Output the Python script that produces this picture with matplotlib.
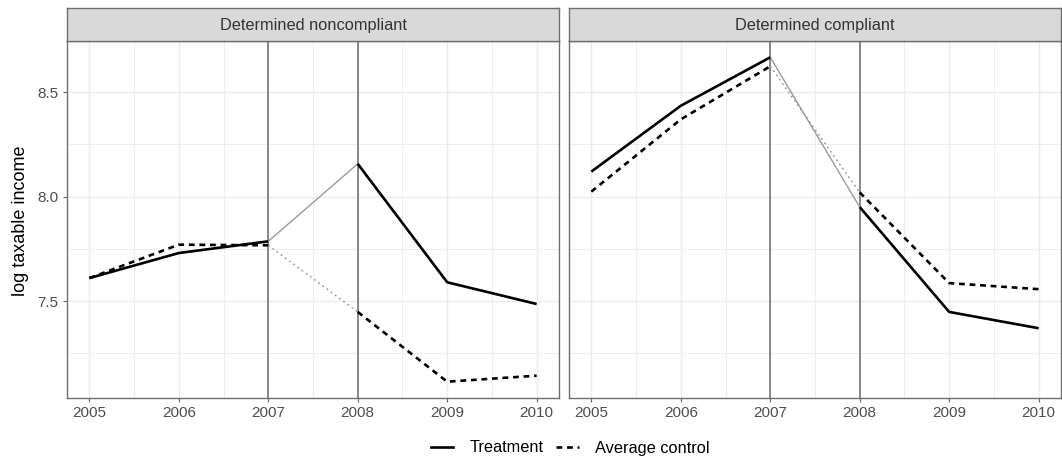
import matplotlib.pyplot as plt
from matplotlib.lines import Line2D

plt.rcParams['font.family'] = ['Liberation Sans', 'DejaVu Sans']

years = [2005, 2006, 2007, 2008, 2009, 2010]
panels = ['Determined noncompliant', 'Determined compliant']

# log taxable income
treat_nc = [7.61, 7.73, 7.786, 8.157, 7.59, 7.486]
ctrl_nc = [7.61, 7.77, 7.767, 7.448, 7.114, 7.143]
treat_c = [8.12, 8.435, 8.667, 7.95, 7.448, 7.37]
ctrl_c = [8.024, 8.37, 8.624, 8.02, 7.586, 7.557]

event_years = [2007, 2008]
y_ticks = [7.5, 8.0, 8.5]
y_minor = [7.25, 7.75, 8.25]

W, H = 1062, 459
fig = plt.figure(figsize=(W / 100, H / 100), dpi=100)

border = '#6e6e6e'
grid_c = '#ebebeb'
text_c = '#4d4d4d'


def px(x0, y0, x1, y1):
    return [x0 / W, 1 - y1 / H, (x1 - x0) / W, (y1 - y0) / H]


def draw_panel(ax, treat, ctrl, first):
    ax.set_xlim(2004.75, 2010.25)
    ax.set_ylim(7.036, 8.745)
    ax.set_xticks(years)
    ax.set_xticks([y + 0.5 for y in years[:-1]], minor=True)
    ax.set_yticks(y_ticks)
    ax.set_yticks(y_minor, minor=True)
    ax.grid(True, which='major', color=grid_c, lw=1.0)
    ax.grid(True, which='minor', color=grid_c, lw=0.6)
    ax.set_axisbelow(True)
    for s in ax.spines.values():
        s.set_color(border)
        s.set_linewidth(1.0)
    ax.tick_params(which='major', length=3, color=border, labelcolor=text_c,
                   labelsize=11, width=0.9, pad=3)
    ax.tick_params(which='minor', length=0)
    if first:
        ax.set_yticklabels(['7.5', '8.0', '8.5'])
    else:
        ax.tick_params(axis='y', left=False, labelleft=False)

    for ev in event_years:
        ax.axvline(ev, color='#777777', lw=1.2, zorder=1)

    # pre and post periods in black, bridge 2007-2008 in thin grey
    ax.plot(years[:3], treat[:3], color='black', lw=1.9, solid_capstyle='butt', zorder=3)
    ax.plot(years[3:], treat[3:], color='black', lw=1.9, solid_capstyle='butt', zorder=3)
    ax.plot(years[:3], ctrl[:3], color='black', lw=1.9, dashes=(2.2, 1.8), zorder=3)
    ax.plot(years[3:], ctrl[3:], color='black', lw=1.9, dashes=(2.2, 1.8), zorder=3)
    ax.plot(years[2:4], treat[2:4], color='#9a9a9a', lw=1.0, zorder=2)
    ax.plot(years[2:4], ctrl[2:4], color='#9a9a9a', lw=1.1, dashes=(1.2, 2.2), zorder=2)


def draw_strip(rect, title):
    sx = fig.add_axes(rect)
    sx.set_facecolor('#d9d9d9')
    sx.set_xticks([])
    sx.set_yticks([])
    for s in sx.spines.values():
        s.set_color(border)
        s.set_linewidth(1.0)
    sx.text(0.5, 0.47, title, ha='center', va='center', fontsize=11.8, color='#333333')


ax1 = fig.add_axes(px(67, 41, 559, 398))
ax2 = fig.add_axes(px(569, 41, 1061, 398))
draw_panel(ax1, treat_nc, ctrl_nc, True)
draw_panel(ax2, treat_c, ctrl_c, False)
draw_strip(px(67, 8, 559, 41), panels[0])
draw_strip(px(569, 8, 1061, 41), panels[1])

fig.text(21 / W, 1 - 221 / H, 'log taxable income', rotation=90,
         ha='center', va='center', fontsize=13, color='black')

handles = [Line2D([], [], color='black', lw=1.9),
           Line2D([], [], color='black', lw=1.9, dashes=(2.2, 1.8))]
fig.legend(handles, ['Treatment', 'Average control'], loc='center left',
           bbox_to_anchor=(416 / W, 1 - 448 / H), ncol=2, frameon=False,
           fontsize=11.8, handlelength=1.35, columnspacing=0.8, handletextpad=1.0)

fig.savefig('out.png', dpi=100)
